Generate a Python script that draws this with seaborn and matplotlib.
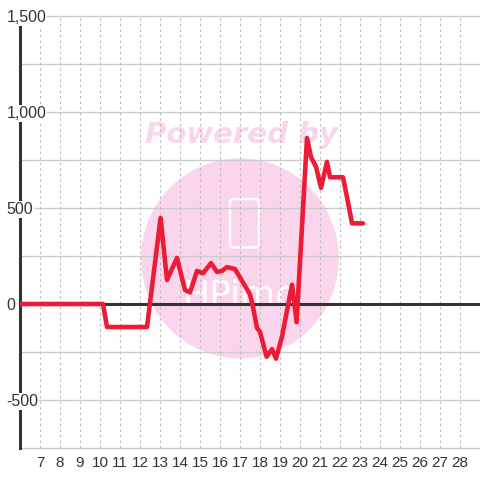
import matplotlib
matplotlib.use("Agg")
import matplotlib.pyplot as plt
import seaborn as sns
from matplotlib.patches import Ellipse, FancyBboxPatch

# values
day = [6.0, 10.15, 10.35, 12.35, 13.03, 13.35, 13.85, 14.25, 14.5, 14.85, 15.15,
       15.55, 15.85, 16.1, 16.35, 16.75, 17.5, 17.65, 17.85, 18.0, 18.33, 18.6,
       18.8, 19.1, 19.6, 19.83, 20.35, 20.55, 20.8, 21.05, 21.35, 21.5, 22.15,
       22.35, 22.6, 23.15]
value = [0, 0, -120, -120, 448, 125, 240, 73, 60, 172, 160,
         213, 167, 172, 192, 182, 50, -15, -125, -145, -275, -235,
         -285, -170, 100, -95, 865, 765, 715, 605, 740, 660, 660,
         557, 420, 420]

x_ticks = list(range(7, 29))
y_grid = [-750, -500, -250, 0, 250, 500, 750, 1000, 1250, 1500]
y_label_vals = [-500, 0, 500, 1000, 1500]
y_label_text = ["-500", "0", "500", "1,000", "1,500"]

sns.set_style("white")
plt.rcParams['font.family'] = ['Liberation Sans', 'DejaVu Sans']

fig = plt.figure(figsize=(4.8, 4.8), dpi=100)
ax = fig.add_axes([20 / 480, 0.0587, 460 / 480, 0.916])
ax.set_xlim(6, 29)
ax.set_ylim(-770, 1520)

# watermark
ax.add_patch(Ellipse((0.478, 0.44), 0.43, 0.455, transform=ax.transAxes,
                     facecolor='#fbd5eb', edgecolor='none', zorder=0))
ax.add_patch(FancyBboxPatch((0.4565, 0.465), 0.063, 0.11, transform=ax.transAxes,
                            boxstyle='round,pad=0,rounding_size=0.008',
                            facecolor='none', edgecolor='white', linewidth=1.8, zorder=0.5))
ax.text(0.478, 0.355, "HPimo", transform=ax.transAxes, ha='center', va='center',
        fontsize=26, color='white', family='DejaVu Sans', zorder=0.5)
ax.text(0.481, 0.72, "Powered by", transform=ax.transAxes, ha='center', va='center',
        fontsize=21, color='#fbd5eb', fontweight='bold', fontstyle='italic',
        family='DejaVu Sans', zorder=0.5)

# grid
ax.hlines(y_grid, 6, 29, colors='#cccccc', linewidth=1, zorder=1)
ax.vlines(x_ticks, -750, 1500, colors='#bbbbbb', linewidth=0.8,
          linestyles=(0, (2.2, 2.8)), zorder=1)
ax.axhline(0, color='#333333', linewidth=2.2, zorder=2)

sns.lineplot(x=day, y=value, ax=ax, color='#ed1c36', linewidth=3.3, zorder=3)

for s in ['top', 'right', 'bottom']:
    ax.spines[s].set_visible(False)
ax.spines['left'].set_color('#333333')
ax.spines['left'].set_linewidth(2.2)
ax.spines['left'].set_bounds(-750, 1460)
ax.spines['left'].set_zorder(2)

ax.set_xticks(x_ticks)
ax.set_xticklabels([str(t) for t in x_ticks])
ax.tick_params(axis='x', length=0, pad=3, labelsize=11, labelcolor='#333333')
ax.set_yticks([])

for v, t in zip(y_label_vals, y_label_text):
    ax.text(-0.029, v, t, transform=ax.get_yaxis_transform(), ha='left',
            va='center_baseline', fontsize=11.5, color='#333333', zorder=4, clip_on=False,
            bbox=dict(facecolor='white', edgecolor='none', pad=0.5))

ax.set_xlabel('')
ax.set_ylabel('')
fig.savefig('out.png', dpi=100, facecolor='white')
